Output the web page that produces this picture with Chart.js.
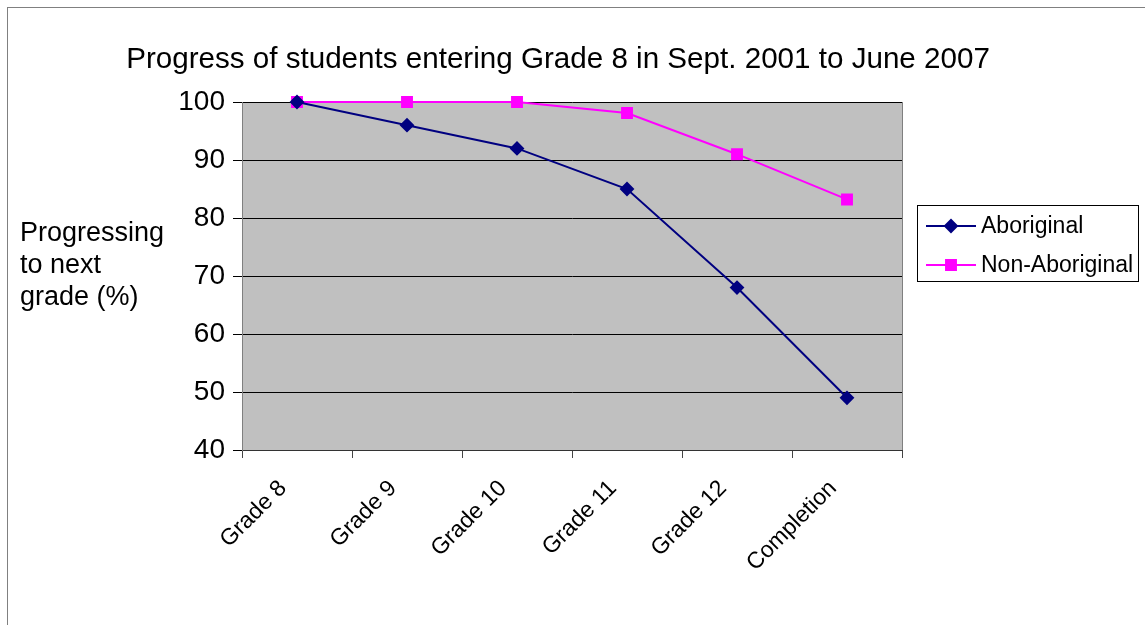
<!DOCTYPE html>
<html>
<head>
<meta charset="utf-8">
<script src="https://cdn.jsdelivr.net/npm/chart.js@4/dist/chart.umd.min.js"></script>
<style>
  html, body { margin: 0; padding: 0; background: #fff; }
  #wrap { width: 1145px; height: 625px; position: relative; }
</style>
</head>
<body>
<div id="wrap"><canvas id="progressChart"></canvas></div>
<script>
const categories = ['Grade 8', 'Grade 9', 'Grade 10', 'Grade 11', 'Grade 12', 'Completion'];
const aboriginal = [100, 96, 92, 85, 68, 49];
const nonAboriginal = [100, 100, 100, 98.1, 91, 83.2];
const yTicks = { min: 40, max: 100, step: 10 };

const chartTitle = 'Progress of students entering Grade 8 in Sept. 2001 to June 2007';
const yTitleLines = ['Progressing', 'to next', 'grade (%)'];
const fontFamily = "'Liberation Sans', Arial, sans-serif";

// fondo blanco, area gris y borde exterior
const backdrop = {
  id: 'backdrop',
  beforeDraw(chart) {
    const { ctx, chartArea: a, width, height } = chart;
    ctx.save();
    ctx.fillStyle = '#fff';
    ctx.fillRect(0, 0, width, height);
    ctx.fillStyle = '#C0C0C0';
    ctx.fillRect(a.left, a.top, a.right - a.left, a.bottom - a.top);
    ctx.strokeStyle = '#808080';
    ctx.lineWidth = 1;
    ctx.strokeRect(7.5, 7.5, width + 10, height + 10);
    ctx.restore();
  },
  beforeDatasetsDraw(chart) {
    const { ctx, chartArea: a } = chart;
    ctx.save();
    ctx.strokeStyle = '#808080';
    ctx.lineWidth = 1;
    ctx.beginPath();
    ctx.moveTo(a.right + 0.5, a.top);
    ctx.lineTo(a.right + 0.5, a.bottom);
    ctx.stroke();
    ctx.restore();
  }
};

// titulo, titulo del eje y y leyenda
const labels = {
  id: 'labels',
  afterDraw(chart) {
    const { ctx } = chart;
    ctx.save();
    ctx.fillStyle = '#000';
    ctx.textBaseline = 'alphabetic';

    ctx.font = '29.6px ' + fontFamily;
    ctx.textAlign = 'center';
    ctx.fillText(chartTitle, 558, 68);

    ctx.font = '27px ' + fontFamily;
    ctx.textAlign = 'left';
    yTitleLines.forEach((line, i) => ctx.fillText(line, 20, 241 + i * 32));

    // leyenda
    ctx.strokeStyle = '#000';
    ctx.lineWidth = 1;
    ctx.strokeRect(917.5, 205.5, 221, 76);
    ctx.font = '23px ' + fontFamily;
    ctx.textBaseline = 'middle';
    chart.data.datasets.forEach((ds, i) => {
      const y = 226 + i * 39;
      ctx.strokeStyle = ds.borderColor;
      ctx.lineWidth = ds.borderWidth;
      ctx.beginPath();
      ctx.moveTo(926, y);
      ctx.lineTo(976, y);
      ctx.stroke();
      ctx.fillStyle = ds.pointBackgroundColor;
      ctx.strokeStyle = ds.pointBorderColor;
      Chart.helpers.drawPoint(ctx, {
        pointStyle: ds.pointStyle,
        radius: ds.pointRadius,
        borderWidth: 1,
        rotation: 0
      }, 951, y);
      ctx.fillStyle = '#000';
      ctx.fillText(ds.label, 981, y + 1);
    });
    ctx.restore();
  }
};

new Chart(document.getElementById('progressChart'), {
  type: 'line',
  data: {
    labels: categories,
    datasets: [
      {
        label: 'Aboriginal',
        data: aboriginal,
        borderColor: '#000080',
        backgroundColor: '#000080',
        pointBackgroundColor: '#000080',
        pointBorderColor: '#000080',
        pointStyle: 'rectRot',
        pointRadius: 6,
        borderWidth: 2,
        tension: 0,
        clip: false
      },
      {
        label: 'Non-Aboriginal',
        data: nonAboriginal,
        borderColor: '#FF00FF',
        backgroundColor: '#FF00FF',
        pointBackgroundColor: '#FF00FF',
        pointBorderColor: '#FF00FF',
        pointStyle: 'rect',
        pointRadius: 7,
        borderWidth: 2,
        tension: 0,
        clip: false
      }
    ]
  },
  options: {
    responsive: true,
    maintainAspectRatio: false,
    animation: false,
    layout: { padding: { top: 102, right: 243, bottom: 0, left: 0 } },
    plugins: {
      legend: { display: false },
      title: { display: false },
      tooltip: { enabled: false }
    },
    scales: {
      x: {
        offset: true,
        afterFit(scale) { scale.height = 175; },
        grid: {
          offset: true,
          drawOnChartArea: false,
          color: '#444',
          tickLength: 8
        },
        border: { color: '#333', width: 1 },
        ticks: {
          color: '#000',
          font: { family: fontFamily, size: 23 },
          minRotation: 45,
          maxRotation: 45,
          labelOffset: -14,
          padding: 17
        }
      },
      y: {
        min: yTicks.min,
        max: yTicks.max,
        afterFit(scale) { scale.width = 242; },
        grid: {
          color: '#000',
          tickColor: '#000',
          tickLength: 9,
          lineWidth: 1
        },
        border: { color: '#808080', width: 1 },
        ticks: {
          stepSize: yTicks.step,
          color: '#000',
          padding: 8,
          font: { family: fontFamily, size: 28 }
        }
      }
    }
  },
  plugins: [backdrop, labels]
});
</script>
</body>
</html>
